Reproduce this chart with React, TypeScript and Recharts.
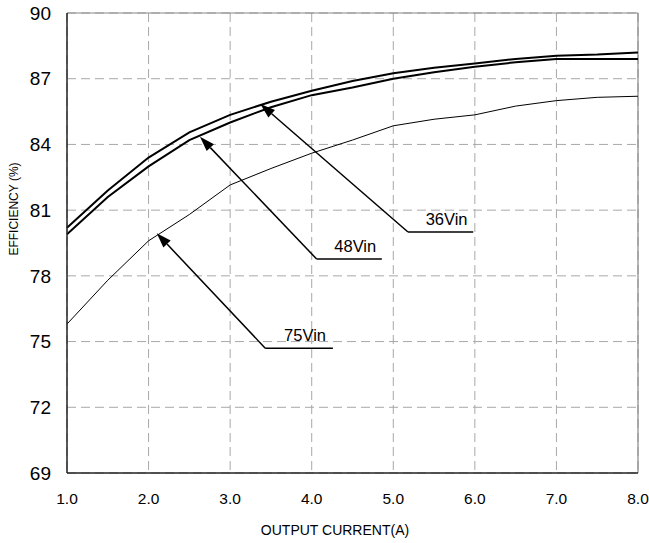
import React from 'react';
import { LineChart, Line, XAxis, YAxis, CartesianGrid, ReferenceLine } from 'recharts';

// output current (A)
const current = [1.0, 1.5, 2.0, 2.5, 3.0, 3.5, 4.0, 4.5, 5.0, 5.5, 6.0, 6.5, 7.0, 7.5, 8.0];
// efficiency (%) per input voltage
const eff36 = [80.2, 81.9, 83.4, 84.55, 85.35, 85.95, 86.45, 86.9, 87.25, 87.5, 87.7, 87.9, 88.05, 88.1, 88.2];
const eff48 = [79.9, 81.6, 83.0, 84.2, 85.0, 85.7, 86.25, 86.6, 87.0, 87.3, 87.55, 87.75, 87.9, 87.9, 87.9];
const eff75 = [75.8, 77.8, 79.6, 80.8, 82.15, 82.9, 83.6, 84.2, 84.85, 85.15, 85.35, 85.75, 86.0, 86.15, 86.2];

const xTicks = [1, 2, 3, 4, 5, 6, 7, 8];
const yTicks = [69, 72, 75, 78, 81, 84, 87, 90];

// callouts: label, arrow tip on the curve, bend point, end of the underline (x)
const callouts = [
  { label: '36Vin', tip: [3.37, 85.85], bend: [5.18, 80.0], end: 5.98 },
  { label: '48Vin', tip: [2.63, 84.35], bend: [4.06, 78.77], end: 4.86 },
  { label: '75Vin', tip: [2.1, 79.95], bend: [3.43, 74.7], end: 4.26 },
];

const data = current.map((x, i) => ({ x, v36: eff36[i], v48: eff48[i], v75: eff75[i] }));

const FONT = '"Liberation Sans", Arial, sans-serif';

const Arrow = (p: any) => {
  const { x1, y1, x2, y2 } = p;
  const a = Math.atan2(y2 - y1, x2 - x1);
  const len = 15;
  const half = 5;
  const bx = x1 + Math.cos(a) * len;
  const by = y1 + Math.sin(a) * len;
  const px = -Math.sin(a) * half;
  const py = Math.cos(a) * half;
  return (
    <g>
      <line x1={bx} y1={by} x2={x2} y2={y2} stroke="#000" strokeWidth={1.5} />
      <polygon points={`${x1},${y1} ${bx + px},${by + py} ${bx - px},${by - py}`} fill="#000" />
    </g>
  );
};

const Underline = (p: any) => {
  const { x1, y1, x2, y2, text } = p;
  return (
    <g>
      <line x1={x1} y1={y1} x2={x2} y2={y2} stroke="#000" strokeWidth={1.5} />
      <text x={(x1 + x2) / 2 + 6} y={y1 - 7} textAnchor="middle" fontSize={16.5} fontFamily={FONT} fill="#000" stroke="none">
        {text}
      </text>
    </g>
  );
};

const XTitle = () => (
  <text x={335} y={535} textAnchor="middle" fontSize={14} fontFamily={FONT} fill="#000" stroke="none">
    OUTPUT CURRENT(A)
  </text>
);

const YTitle = () => (
  <text x={18} y={209} transform="rotate(-90 18 209)" textAnchor="middle" fontSize={12} fontFamily={FONT} fill="#000" stroke="none">
    EFFICIENCY (%)
  </text>
);

export default function App() {
  return (
    <div style={{ position: 'absolute', left: 0, top: 0, background: '#fff' }}>
      <LineChart width={649} height={543} data={data} margin={{ top: 13, right: 11, bottom: 0, left: 0 }}>
        <CartesianGrid stroke="#a8a8a8" strokeDasharray="9 5" />
        <XAxis
          dataKey="x"
          type="number"
          domain={[1, 8]}
          ticks={xTicks}
          tickFormatter={(v) => v.toFixed(1)}
          height={70}
          tickLine={false}
          tickSize={6}
          tickMargin={14}
          axisLine={{ stroke: '#222', strokeWidth: 1.5 }}
          tick={{ fill: '#000', stroke: 'none', fontSize: 15.5, fontFamily: FONT }}
          label={XTitle}
        />
        <YAxis
          type="number"
          domain={[69, 90]}
          ticks={yTicks}
          width={67}
          tickLine={false}
          tickSize={6}
          tickMargin={10}
          axisLine={{ stroke: '#222', strokeWidth: 1.5 }}
          tick={{ fill: '#000', stroke: 'none', fontSize: 19, fontFamily: FONT }}
          label={YTitle}
        />
        <ReferenceLine y={90} stroke="#888" strokeWidth={1.2} />
        <ReferenceLine x={8} stroke="#888" strokeWidth={1.2} />
        <Line dataKey="v75" type="linear" stroke="#000" strokeWidth={1} dot={false} isAnimationActive={false} />
        <Line dataKey="v48" type="linear" stroke="#000" strokeWidth={2} dot={false} isAnimationActive={false} />
        <Line dataKey="v36" type="linear" stroke="#000" strokeWidth={2} dot={false} isAnimationActive={false} />
        {callouts.map((c) => (
          <ReferenceLine
            key={c.label + '-arrow'}
            segment={[{ x: c.tip[0], y: c.tip[1] }, { x: c.bend[0], y: c.bend[1] }]}
            shape={(p: any) => <Arrow {...p} />}
          />
        ))}
        {callouts.map((c) => (
          <ReferenceLine
            key={c.label + '-line'}
            segment={[{ x: c.bend[0], y: c.bend[1] }, { x: c.end, y: c.bend[1] }]}
            shape={(p: any) => <Underline {...p} text={c.label} />}
          />
        ))}
      </LineChart>
    </div>
  );
}
